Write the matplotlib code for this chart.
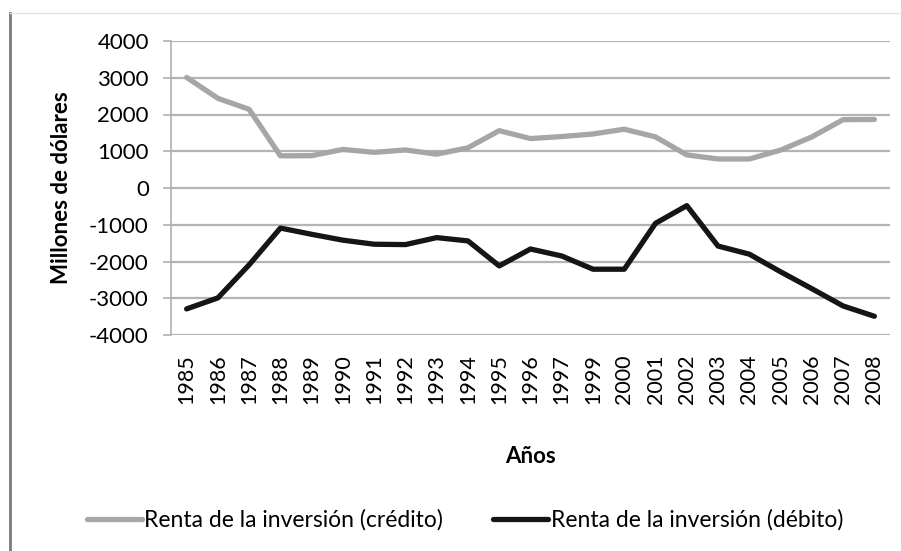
import matplotlib
matplotlib.use('Agg')
import matplotlib.pyplot as plt
from matplotlib.lines import Line2D

years = ['1985', '1986', '1987', '1988', '1989', '1990', '1991', '1992', '1993',
         '1994', '1995', '1996', '1997', '1999', '2000', '2001', '2002', '2003',
         '2004', '2005', '2006', '2007', '2008']
credito = [3010, 2440, 2140, 875, 880, 1050, 970, 1035, 920, 1095, 1560, 1345,
           1400, 1470, 1600, 1390, 900, 790, 790, 1030, 1390, 1860, 1865]
debito = [-3290, -2990, -2090, -1090, -1260, -1420, -1530, -1540, -1350, -1440,
          -2120, -1660, -1850, -2210, -2210, -960, -480, -1580, -1800, -2280,
          -2740, -3210, -3490]

plt.rcParams['font.family'] = ['Lato', 'DejaVu Sans']
plt.rcParams['axes.unicode_minus'] = False

fig = plt.figure(figsize=(9.01, 5.51), dpi=100)
ax = fig.add_axes([171/901, 1 - 335/551, 719/901, 294/551])

x = list(range(len(years)))
ax.plot(x, credito, color='#a6a6a6', lw=3.8, solid_capstyle='round', solid_joinstyle='round')
ax.plot(x, debito, color='#151515', lw=3.8, solid_capstyle='round', solid_joinstyle='round')

ax.set_xlim(-0.5, len(years) - 0.5)
ax.set_ylim(-4000, 4000)
ax.set_yticks(range(-4000, 4001, 1000))
ax.set_xticks(x)
ax.set_xticklabels(years, rotation=90, fontsize=15.5)
ax.tick_params(axis='x', length=0, pad=14)
ax.tick_params(axis='y', labelsize=16, length=6, width=1.2, color='#b0b0b0', pad=10)
ax.grid(axis='y', color='#b4b4b4', lw=1.6)
ax.set_axisbelow(True)
for s in ['top', 'right', 'bottom']:
    ax.spines[s].set_visible(False)
ax.spines['left'].set_color('#b0b0b0')
ax.spines['left'].set_linewidth(1.2)

ax.set_ylabel('Millones de dólares', fontsize=16, fontweight='bold', labelpad=12)
ax.set_xlabel('Años', fontsize=16, fontweight='bold', labelpad=30)

handles = [Line2D([], [], color='#a6a6a6', lw=3.8, solid_capstyle='round'),
           Line2D([], [], color='#151515', lw=3.8, solid_capstyle='round')]
fig.legend(handles, ['Renta de la inversión (crédito)', 'Renta de la inversión (débito)'],
           loc='center', bbox_to_anchor=(465/901, 1 - 520/551), ncol=2, frameon=False,
           fontsize=16.5, handlelength=2.4, handletextpad=0.1, columnspacing=2.2)

# marco del gráfico
fig.add_artist(Line2D([10/901, 10/901], [0, 1 - 13/551], color='#7a7a7a', lw=2))
fig.add_artist(Line2D([10/901, 1], [1 - 13/551, 1 - 13/551], color='#e4e4e4', lw=1))

fig.savefig('out.png', dpi=100)
